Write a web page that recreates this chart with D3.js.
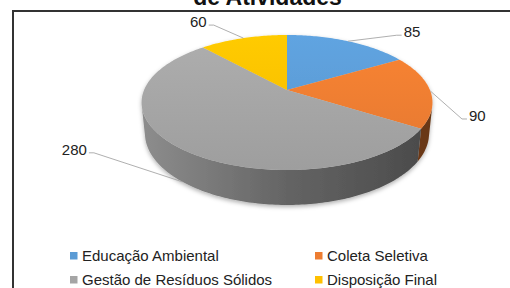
<!DOCTYPE html>
<html>
<head>
<meta charset="utf-8">
<script src="https://cdn.jsdelivr.net/npm/d3@7"></script>
<style>
  body { margin: 0; background: #fff; }
  svg { display: block; font-family: "Liberation Sans", Arial, sans-serif; }
</style>
</head>
<body>
<svg id="chart" width="510" height="288"></svg>
<script>
// dados
var categorias = ["Educação Ambiental", "Coleta Seletiva", "Gestão de Resíduos Sólidos", "Disposição Final"];
var valores = [85, 90, 280, 60];
var cores = ["#5b9bd5", "#ed7d31", "#a5a5a5", "#ffc000"];
var titulo = "de Atividades";

var svg = d3.select("#chart");
var defs = svg.append("defs");

// perspectiva da pizza 3D
var cx = 287, cy = 90, F = 687, D = 4.806;
var sinE = 0.456, cosE = Math.sqrt(1 - sinE * sinE);
var esp = 0.245; // espessura

function proj(a, r, y) {
    var X = r * Math.sin(a), Z = r * Math.cos(a);
    var up = Z * sinE + y * cosE;
    var depth = Z * cosE - y * sinE + D;
    return [cx + F * X / depth, cy - F * up / depth];
}
function arco(a0, a1, y) {
    var n = Math.max(2, Math.ceil(Math.abs(a1 - a0) / (Math.PI / 180)));
    return d3.range(n + 1).map(function(i) { return proj(a0 + (a1 - a0) * i / n, 1, y); });
}
var linha = d3.line();

var fatias = d3.pie().sort(null).startAngle(0).endAngle(2 * Math.PI)(valores);

// faixa visivel da lateral
var phi = Math.acos(1 / (D * cosE));
var vis0 = Math.PI - phi, vis1 = Math.PI + phi;

// borda e titulo
svg.append("rect")
    .attr("x", 13).attr("y", 11).attr("width", 540).attr("height", 300)
    .attr("fill", "#fff").attr("stroke", "#333").attr("stroke-width", 2);
svg.append("text")
    .attr("x", 267.5).attr("y", 4.5)
    .attr("text-anchor", "middle")
    .attr("font-size", 23).attr("font-weight", "bold").attr("fill", "#111")
    .text(titulo);

var sombra = defs.append("filter").attr("id", "sombra")
    .attr("x", "-10%").attr("y", "-10%").attr("width", "120%").attr("height", "130%");
sombra.append("feDropShadow").attr("dx", 0).attr("dy", 2).attr("stdDeviation", 2)
    .attr("flood-color", "#000").attr("flood-opacity", 0.3);

fatias.forEach(function(d, i) {
    var c = d3.color(cores[i]);
    var gl = defs.append("linearGradient").attr("id", "lado" + i)
        .attr("gradientUnits", "userSpaceOnUse")
        .attr("x1", 142).attr("x2", 433).attr("y1", 0).attr("y2", 0);
    gl.append("stop").attr("offset", 0).attr("stop-color", c.darker(0.45));
    gl.append("stop").attr("offset", 0.5).attr("stop-color", c.darker(1.4));
    gl.append("stop").attr("offset", 1).attr("stop-color", c.darker(2.3));
    var gt = defs.append("linearGradient").attr("id", "topo" + i)
        .attr("gradientUnits", "userSpaceOnUse")
        .attr("x1", 0).attr("x2", 0).attr("y1", 35).attr("y2", 170);
    gt.append("stop").attr("offset", 0).attr("stop-color", c.brighter(0.15));
    gt.append("stop").attr("offset", 1).attr("stop-color", c.darker(0.12));
});

var pizza = svg.append("g").attr("filter", "url(#sombra)");

// laterais
pizza.selectAll("path.lado")
    .data(fatias.filter(function(d) { return d.endAngle > vis0 && d.startAngle < vis1; }))
    .enter().append("path")
    .attr("class", "lado")
    .attr("fill", function(d) { return "url(#lado" + d.index + ")"; })
    .attr("d", function(d) {
        var a0 = Math.max(d.startAngle, vis0), a1 = Math.min(d.endAngle, vis1);
        var pts = arco(a0, a1, 0).concat(arco(a1, a0, -esp));
        return linha(pts) + "Z";
    });

// topo
pizza.selectAll("path.topo")
    .data(fatias)
    .enter().append("path")
    .attr("class", "topo")
    .attr("fill", function(d) { return "url(#topo" + d.index + ")"; })
    .attr("d", function(d) {
        return linha([proj(0, 0, 0)].concat(arco(d.startAngle, d.endAngle, 0))) + "Z";
    });

// rotulos
var deslocRotulo = [[64, -9], [47, 25], [-108, -32], [-45, -16]];
var rot = svg.append("g").attr("font-size", 15).attr("fill", "#222");
fatias.forEach(function(d, i) {
    var meio = (d.startAngle + d.endAngle) / 2;
    var frente = meio > 2 * Math.PI / 3 && meio < 4 * Math.PI / 3;
    var p = proj(meio, 1, frente ? -esp : 0);
    var lx = p[0] + deslocRotulo[i][0], ly = p[1] + deslocRotulo[i][1];
    var t = rot.append("text")
        .attr("x", lx).attr("y", ly)
        .attr("dy", "0.35em")
        .attr("text-anchor", "middle")
        .text(valores[i]);
    var w = t.node().getComputedTextLength();
    var s = lx > p[0] ? -1 : 1;
    var borda = lx + s * (w / 2 + 2);
    rot.append("path")
        .attr("fill", "none").attr("stroke", "#a6a6a6").attr("stroke-width", 0.9)
        .attr("d", linha([p, [borda + s * 5, ly + 3], [borda, ly + 3]]));
});

// legenda
var leg = svg.append("g").selectAll("g")
    .data(categorias)
    .enter().append("g")
    .attr("transform", function(d, i) {
        return "translate(" + [70 + (i % 2) * 245, 256 + Math.floor(i / 2) * 24] + ")";
    });
leg.append("rect")
    .attr("x", 0).attr("y", -4).attr("width", 7.5).attr("height", 7.5)
    .attr("fill", function(d, i) { return cores[i]; });
leg.append("text")
    .attr("x", 12).attr("y", 0).attr("dy", "0.35em")
    .attr("font-size", 15).attr("fill", "#222")
    .text(function(d) { return d; });
</script>
</body>
</html>
